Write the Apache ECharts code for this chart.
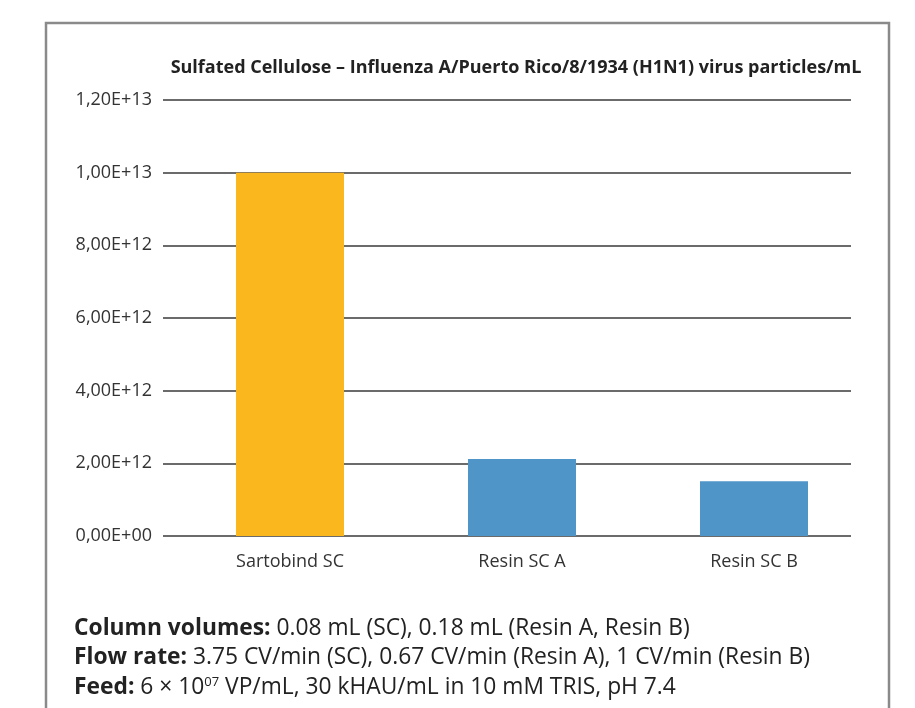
<!DOCTYPE html>
<html>
<head>
<meta charset="utf-8">
<script src="https://cdn.jsdelivr.net/npm/echarts@6/dist/echarts.min.js"></script>
<style>
  html, body { margin: 0; padding: 0; background: #fff; }
  #chart { width: 915px; height: 708px; }
</style>
</head>
<body>
<div id="chart"></div>
<script>
  // 数据
  var titleText = 'Sulfated Cellulose \u2013 Influenza A/Puerto Rico/8/1934 (H1N1) virus particles/mL';
  var categories = ['Sartobind SC', 'Resin SC A', 'Resin SC B'];
  var particles = [1.0e13, 2.12e12, 1.51e12];
  var yMin = 0, yMax = 1.2e13, yStep = 2e12;
  var notes = [
    '{b|Column volumes:} 0.08 mL (SC), 0.18 mL (Resin A, Resin B)',
    '{b|Flow rate:} 3.75 CV/min (SC), 0.67 CV/min (Resin A), 1 CV/min (Resin B)',
    '{b|Feed:} 6 \u00d7 10{sup|07} VP/mL, 30 kHAU/mL in 10 mM TRIS, pH 7.4'
  ];

  var barColors = ['#fbb71e', '#4f95c8', '#4f95c8'];
  var fontFam = '"Open Sans", "Noto Sans", sans-serif';

  // 1,20E+13 样式
  function sciLabel (v) {
    var s = v.toExponential(2).split('e');
    var exp = parseInt(s[1], 10);
    var sign = exp < 0 ? '-' : '+';
    exp = Math.abs(exp);
    return s[0].replace('.', ',') + 'E' + sign + (exp < 10 ? '0' + exp : exp);
  }

  var myChart = echarts.init(document.getElementById('chart'));
  var myOption = {
    animation: false,
    textStyle: { fontFamily: fontFam },
    title: {
      text: titleText,
      left: 511,
      textAlign: 'center',
      top: 54,
      textStyle: { fontSize: 18, fontWeight: 'bold', color: '#222', fontFamily: fontFam }
    },
    // 网格0：纵轴和横线，网格1：柱子
    grid: [
      { left: 163, width: 688, top: 100, height: 436, containLabel: false },
      { left: 174, width: 696, top: 100, height: 436, containLabel: false }
    ],
    xAxis: [
      { gridIndex: 0, type: 'category', data: categories, show: false },
      {
        gridIndex: 1,
        type: 'category',
        data: categories,
        axisLine: { show: false },
        axisTick: { show: false },
        axisLabel: { color: '#333', fontSize: 18, margin: 17, fontFamily: fontFam }
      }
    ],
    yAxis: [
      {
        gridIndex: 0,
        type: 'value',
        min: yMin,
        max: yMax,
        interval: yStep,
        axisLine: { show: false },
        axisTick: { show: false },
        axisLabel: { color: '#333', fontSize: 18, margin: 11, formatter: sciLabel, fontFamily: fontFam },
        splitLine: { show: true, lineStyle: { color: '#3a3a3a', width: 1.5 } }
      },
      {
        gridIndex: 1,
        type: 'value',
        min: yMin,
        max: yMax,
        interval: yStep,
        show: false,
        splitLine: { show: false }
      }
    ],
    series: [
      {
        type: 'bar',
        xAxisIndex: 1,
        yAxisIndex: 1,
        barWidth: 108,
        z: 3,
        data: particles.map(function (v, i) {
          return { value: v, itemStyle: { color: barColors[i] } };
        })
      }
    ],
    graphic: [
      {
        type: 'rect',
        shape: { x: 46, y: 23, width: 843, height: 720 },
        style: { fill: 'none', stroke: '#8a8a8a', lineWidth: 2.5 },
        silent: true
      }
    ].concat(notes.map(function (t, i) {
      return {
        type: 'text',
        left: 74,
        top: 617 + i * 29.5,
        style: {
          text: t,
          fill: '#222',
          font: '22.8px ' + fontFam,
          rich: {
            b: { fontWeight: 'bold', fontSize: 22.8, fontFamily: fontFam, fill: '#222' },
            sup: { fontSize: 13, verticalAlign: 'top', fontFamily: fontFam, fill: '#222' }
          }
        }
      };
    }))
  };
  myChart.setOption(myOption);
</script>
</body>
</html>
